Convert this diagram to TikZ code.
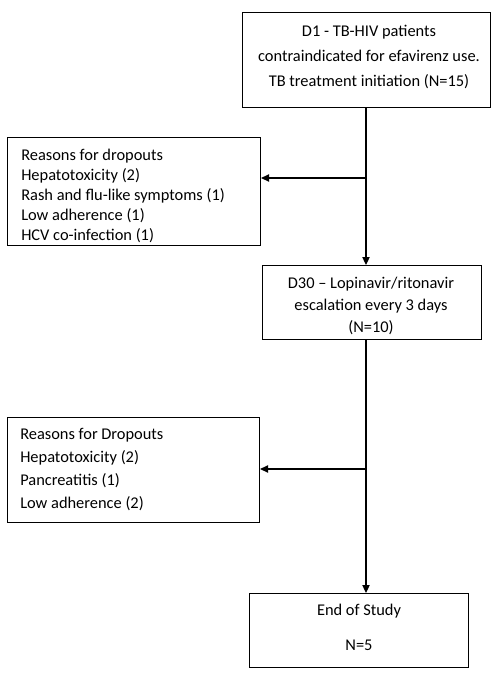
\documentclass[tikz,border=0pt]{standalone}
\usepackage{fontspec}
\setmainfont{Carlito}
\usetikzlibrary{arrows.meta}
\begin{document}
\begin{tikzpicture}[x=0.75pt,y=-0.75pt,
  box/.style={draw=black,line width=0.8pt,inner sep=0pt,anchor=north west},
  txt/.style={inner sep=0pt,font=\fontsize{12.3}{#1}\selectfont},
  arr/.style={line width=0.8pt,-{Triangle[length=6pt,width=5.5pt]}}]
\useasboundingbox (0,0) rectangle (500,675);
% boxes
\node[box,minimum width=186pt,minimum height=71.25pt] (b1) at (242,12) {};
\node[box,minimum width=189.75pt,minimum height=81pt] (l1) at (7,137) {};
\node[box,minimum width=164.25pt,minimum height=55.5pt] (d30) at (262,265) {};
\node[box,minimum width=189pt,minimum height=78.75pt] (l2) at (7,417) {};
\node[box,minimum width=164.25pt,minimum height=55.5pt] (fin) at (249,593) {};
% texts (anchor = baseline of last line)
\node[txt=18.75pt,align=center,anchor=base] (b1t) at (369,86)
  {D1 - TB-HIV patients\\contraindicated for efavirenz use.\\TB treatment initiation (N=15)};
\node[txt=15pt,align=left,anchor=base west] (l1t) at (21,240)
  {Reasons for dropouts\\Hepatotoxicity (2)\\Rash and flu-like symptoms (1)\\Low adherence (1)\\HCV co-infection (1)};
\node[txt=16.5pt,align=center,anchor=base] (d30t) at (371,332)
  {D30 – Lopinavir/ritonavir\\escalation every 3 days\\(N=10)};
\node[txt=17.25pt,align=left,anchor=base west] (l2t) at (20,508)
  {Reasons for Dropouts\\Hepatotoxicity (2)\\Pancreatitis (1)\\Low adherence (2)};
\node[txt=26.25pt,align=center,anchor=base] (fint) at (359,650)
  {End of Study\\N=5};
% connectors
\coordinate (t1) at (366,178);
\coordinate (t2) at (366,469);
\draw[arr] (b1.south -| t1) -- (d30.north -| t1);
\draw[arr] (t1) -- (l1.east |- t1);
\draw[arr] (d30.south -| t2) -- (fin.north -| t2);
\draw[arr] (t2) -- (l2.east |- t2);
\end{tikzpicture}
\end{document}
